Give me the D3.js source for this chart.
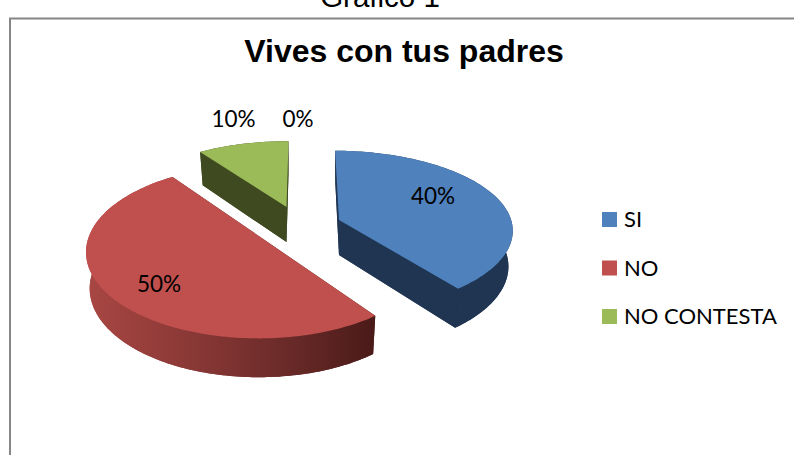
<!DOCTYPE html>
<html>
<head>
<meta charset="utf-8">
<script src="https://cdn.jsdelivr.net/npm/d3@7"></script>
<style>
  html, body { margin:0; padding:0; background:#fff; overflow:hidden; }
  text { fill:#000; }
</style>
</head>
<body>
<div id="canvas"></div>
<script>
// data
var categories = ['SI', 'NO', 'NO CONTESTA', ''];
var values = [40, 50, 10, 0];
var labels = ['40%', '50%', '10%', '0%'];

var topColors = ['#4f81bd', '#c0504d', '#9bbb59', '#8064a2'];
var sideColors = ['#1f3552', 'url(#redWall)', '#3f4a20', '#3f3150'];

var W = 794, H = 455;

var svg = d3.select('#canvas').append('svg')
    .attr('width', W)
    .attr('height', H);

// red wall shading
var grad = svg.append('defs').append('linearGradient')
    .attr('id', 'redWall')
    .attr('gradientUnits', 'userSpaceOnUse')
    .attr('x1', 85).attr('x2', 375).attr('y1', 0).attr('y2', 0);
grad.append('stop').attr('offset', '0%').attr('stop-color', '#a94743');
grad.append('stop').attr('offset', '40%').attr('stop-color', '#873735');
grad.append('stop').attr('offset', '75%').attr('stop-color', '#642826');
grad.append('stop').attr('offset', '100%').attr('stop-color', '#4a1a18');

// frame, only the left and top sides are on the page
svg.append('path')
    .attr('d', 'M10,' + H + 'V18.5H' + W)
    .attr('fill', 'none')
    .attr('stroke', '#868686')
    .attr('stroke-width', 2);

// cut by the page top in the reference too
svg.append('text')
    .attr('x', 380).attr('y', 7)
    .attr('text-anchor', 'middle')
    .style('font', '29.5px "Liberation Sans"')
    .text('Gráfico 1');

svg.append('text')
    .attr('x', 404).attr('y', 62)
    .attr('text-anchor', 'middle')
    .style('font', 'bold 32px "Liberation Sans"')
    .text('Vives con tus padres');

// 3d look: every exploded slice has its own apex and perspective
var shapes = [
    {cx:339, cy:220, rx:179, ry:79, k:0.14, m:0.04, rot:-1.4, depth:35, rimX:0.975, rimY:1.06},
    {cx:269, cy:243, rx:172, ry:85.7, k:0.1, m:0.055, rot:0, depth:36, rimX:0.98, rimY:1.03},
    {cx:286.5, cy:207, rx:167, ry:75, k:0.14, m:0, rot:0.8, depth:35, rimX:0.97, rimY:1.03},
    {cx:297, cy:200, rx:165, ry:75, k:0.14, m:0, rot:0, depth:35, rimX:0.97, rimY:1.03}
];

function project(s, angle, low) {
    var a = angle + s.rot * Math.PI / 180;
    var u = Math.sin(a), v = -Math.cos(a);
    var d = 1 - s.k * v + s.m * u;
    return [
        s.cx + s.rx * (low ? s.rimX : 1) * u / d,
        s.cy + (low ? s.depth : 0) + s.ry * (low ? s.rimY : 1) * v / d
    ];
}

function arcPoints(s, a0, a1, low) {
    var n = Math.max(2, Math.ceil((a1 - a0) / 0.02));
    return d3.range(n + 1).map(function(i) {
        return project(s, a0 + (a1 - a0) * i / n, low);
    });
}

var line = d3.line();
var color = d3.scaleOrdinal().domain(categories).range(topColors);
var side = d3.scaleOrdinal().domain(categories).range(sideColors);

var slices = d3.pie().sort(null).value(function(d) { return d; })(values);

var plot = svg.append('g');

slices.forEach(function(d, i) {
    if (d.endAngle - d.startAngle <= 0) return;
    var s = shapes[i], name = categories[i];
    var apexTop = [s.cx, s.cy];
    var apexLow = [s.cx, s.cy + s.depth];
    var topArc = arcPoints(s, d.startAngle, d.endAngle, false);
    var lowArc = arcPoints(s, d.startAngle, d.endAngle, true);

    // floor and the two cut faces in dark tone
    plot.append('path')
        .attr('d', line([apexLow].concat(lowArc)) + 'Z')
        .attr('fill', side(name));
    plot.append('path')
        .attr('d', line([apexTop, topArc[0], lowArc[0], apexLow]) + 'Z')
        .attr('fill', i === 1 ? '#4a1a18' : side(name));
    plot.append('path')
        .attr('d', line([apexTop, topArc[topArc.length - 1], lowArc[lowArc.length - 1], apexLow]) + 'Z')
        .attr('fill', i === 1 ? '#4a1a18' : side(name));
    // outer wall
    plot.append('path')
        .attr('d', line(topArc.concat(lowArc.slice().reverse())) + 'Z')
        .attr('fill', side(name));
    // top face
    plot.append('path')
        .attr('d', line([apexTop].concat(topArc)) + 'Z')
        .attr('fill', color(name));
});

// data labels
var labelX = [433, 159, 233.5, 298], labelY = [204, 292, 127, 127];
svg.selectAll('.lab')
    .data(labels)
    .enter()
    .append('text')
    .attr('class', 'lab')
    .attr('x', function(d, i) { return labelX[i]; })
    .attr('y', function(d, i) { return labelY[i]; })
    .attr('text-anchor', 'middle')
    .style('font', '22.5px Lato')
    .text(function(d) { return d; });

// legend
var legendY = d3.scalePoint().domain(categories.slice(0, 3)).range([212, 309]);
var legend = svg.selectAll('.leg')
    .data(categories.slice(0, 3))
    .enter()
    .append('g')
    .attr('class', 'leg')
    .attr('transform', function(d) { return 'translate(602,' + legendY(d) + ')'; });
legend.append('rect')
    .attr('width', 15).attr('height', 15)
    .attr('fill', function(d) { return color(d); });
legend.append('text')
    .attr('x', 22).attr('y', 15)
    .style('font', '22px Lato')
    .text(function(d) { return d; });
</script>
</body>
</html>
